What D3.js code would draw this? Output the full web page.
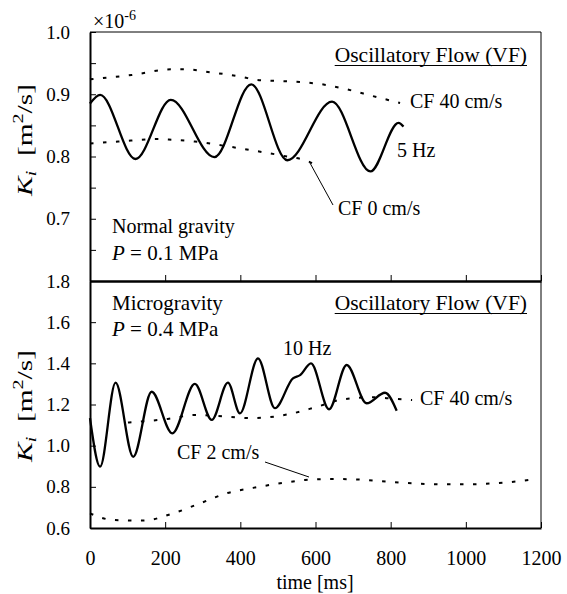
<!DOCTYPE html>
<html>
<head>
<meta charset="utf-8">
<script src="https://cdn.jsdelivr.net/npm/d3@7"></script>
<style>
  body { margin: 0; background: #fff; }
</style>
</head>
<body>
<div id="chart"></div>
<script>
// Ki vs time, two stacked panels (top: normal gravity, bottom: microgravity)
var svgWidth = 567;
var svgHeight = 594;
var serif = '"Liberation Serif"';

var plotLeft = 90, plotRight = 541;
var topY0 = 32, midY = 281, botY1 = 528;

// tick values
var xTicks = [0, 200, 400, 600, 800, 1000, 1200];
var topYTicks = [0.65, 0.7, 0.75, 0.8, 0.85, 0.9, 0.95, 1.0];
var topYLabels = [0.7, 0.8, 0.9, 1.0];
var botYTicks = [0.6, 0.8, 1.0, 1.2, 1.4, 1.6, 1.8];

// top panel, 5 Hz oscillatory flow (x1e-6 m2/s)
var top5HzT = [0, 27, 121, 215, 331, 429, 525, 644, 746, 821, 834];
var top5HzK = [0.885, 0.899, 0.796, 0.891, 0.799, 0.916, 0.794, 0.888, 0.776, 0.854, 0.848];
// top panel, CF 40 cm/s
var topCF40T = [0, 111, 217, 253, 324, 404, 444, 550, 617, 683, 753, 825];
var topCF40K = [0.924, 0.931, 0.940, 0.940, 0.935, 0.928, 0.923, 0.920, 0.916, 0.908, 0.897, 0.886];
// top panel, CF 0 cm/s
var topCF0T = [0, 75, 181, 217, 279, 359, 430, 506, 581, 612];
var topCF0K = [0.821, 0.824, 0.828, 0.827, 0.824, 0.817, 0.810, 0.802, 0.792, 0.783];

// bottom panel, 10 Hz oscillatory flow
var bot10HzT = [0, 27, 68, 115, 164, 219, 279, 324, 367, 399, 447, 492, 540, 559, 588, 636, 683, 736, 785, 816];
var bot10HzK = [1.134, 0.898, 1.306, 0.946, 1.262, 1.06, 1.30, 1.125, 1.306, 1.157, 1.424, 1.182, 1.327, 1.343, 1.40, 1.177, 1.392, 1.206, 1.257, 1.17];
// bottom panel, CF 40 cm/s
var botCF40T = [101, 207, 279, 341, 431, 532, 604, 673, 753, 793, 857];
var botCF40K = [1.112, 1.130, 1.149, 1.144, 1.134, 1.154, 1.189, 1.225, 1.235, 1.230, 1.222];
// bottom panel, CF 2 cm/s
var botCF2T = [0, 61, 141, 221, 293, 364, 434, 506, 572, 647, 719, 790, 861, 931, 1002, 1073, 1144, 1184];
var botCF2K = [0.671, 0.639, 0.636, 0.671, 0.72, 0.769, 0.795, 0.817, 0.833, 0.838, 0.835, 0.825, 0.817, 0.812, 0.812, 0.817, 0.828, 0.838];

var svg = d3.select("#chart")
  .append("svg")
  .attr("width", svgWidth)
  .attr("height", svgHeight);

var xScale = d3.scaleLinear().domain([0, 1200]).range([plotLeft, plotRight]);
var yTop = d3.scaleLinear().domain([0.6, 1.0]).range([midY, topY0]);
var yBot = d3.scaleLinear().domain([0.6, 1.8]).range([botY1, midY]);

// frame: thin top/right
svg.append("line").attr("x1", plotLeft).attr("x2", plotRight).attr("y1", topY0).attr("y2", topY0)
  .attr("stroke", "#000").attr("stroke-width", 1);
svg.append("line").attr("x1", plotRight).attr("x2", plotRight).attr("y1", topY0).attr("y2", botY1)
  .attr("stroke", "#000").attr("stroke-width", 1);

// y axes
var topAxis = d3.axisLeft(yTop)
  .tickValues(topYTicks)
  .tickSizeInner(-6).tickSizeOuter(0).tickPadding(20)
  .tickFormat(d => topYLabels.some(v => Math.abs(v - d) < 1e-9) ? d3.format(".1f")(d) : "");
svg.append("g")
  .attr("transform", `translate(${plotLeft},0)`)
  .call(topAxis)
  .call(g => g.select(".domain").attr("stroke-width", 2))
  .call(g => g.selectAll("text").attr("font-size", 19));

var botAxis = d3.axisLeft(yBot)
  .tickValues(botYTicks)
  .tickSizeInner(-6).tickSizeOuter(0).tickPadding(20)
  .tickFormat(d3.format(".1f"));
svg.append("g")
  .attr("transform", `translate(${plotLeft},0)`)
  .call(botAxis)
  .call(g => g.select(".domain").attr("stroke-width", 2))
  .call(g => g.selectAll("text").attr("font-size", 19));

// x axes
var midAxis = d3.axisBottom(xScale)
  .tickValues(xTicks).tickSizeInner(-6).tickSizeOuter(0).tickFormat("");
svg.append("g")
  .attr("transform", `translate(0,${midY})`)
  .call(midAxis)
  .call(g => g.select(".domain").attr("stroke-width", 2.5));

var bottomAxis = d3.axisBottom(xScale)
  .tickValues(xTicks).tickSizeInner(-6).tickSizeOuter(0).tickPadding(23)
  .tickFormat(d3.format("d"));
svg.append("g")
  .attr("transform", `translate(0,${botY1})`)
  .call(bottomAxis)
  .call(g => g.select(".domain").attr("stroke-width", 2))
  .call(g => g.selectAll("text").attr("font-size", 20));

// curves
function drawSeries(ts, ks, yScale, dashed) {
  var pts = ts.map((t, i) => [t, ks[i]]);
  var line = d3.line()
    .x(d => xScale(d[0]))
    .y(d => yScale(d[1]))
    .curve(d3.curveMonotoneX);
  var p = svg.append("path")
    .datum(pts)
    .attr("fill", "none")
    .attr("stroke", "#000")
    .attr("d", line);
  if (dashed) {
    p.attr("stroke-width", 2).attr("stroke-dasharray", "3.5,9.5");
  } else {
    p.attr("stroke-width", 2.3).attr("stroke-linejoin", "round");
  }
}

drawSeries(topCF40T, topCF40K, yTop, true);
drawSeries(topCF0T, topCF0K, yTop, true);
drawSeries(top5HzT, top5HzK, yTop, false);
drawSeries(botCF40T, botCF40K, yBot, true);
drawSeries(botCF2T, botCF2K, yBot, true);
drawSeries(bot10HzT, bot10HzK, yBot, false);

// annotations
function label(x, y, str, size) {
  return svg.append("text").attr("x", x).attr("y", y)
    .style("font-family", serif)
    .attr("font-size", size || 21).text(str);
}

function pLabel(x, y, str) {
  var t = svg.append("text").attr("x", x).attr("y", y)
    .style("font-family", serif).attr("font-size", 21);
  t.append("tspan").attr("font-style", "italic").text("P");
  t.append("tspan").text("\u00a0= " + str);
}

function underlined(xEnd, y, str) {
  var t = svg.append("text").attr("x", xEnd).attr("y", y)
    .style("font-family", serif)
    .attr("font-size", 21.5).attr("text-anchor", "end").text(str);
  var w = t.node().getComputedTextLength();
  svg.append("line")
    .attr("x1", xEnd - w).attr("x2", xEnd)
    .attr("y1", y + 3.5).attr("y2", y + 3.5)
    .attr("stroke", "#000").attr("stroke-width", 1.2);
}

// multiplier
var mult = svg.append("text").attr("x", 93).attr("y", 28)
  .style("font-family", serif).attr("font-size", 20);
mult.append("tspan").text("×10");
mult.append("tspan").attr("font-size", 14).attr("dy", -8).text("-6");

underlined(527, 62, "Oscillatory Flow (VF)");
label(410, 108, "CF 40 cm/s", 20);
label(397, 157, "5 Hz", 20);
label(338, 215, "CF 0 cm/s", 20);
label(112, 233, "Normal gravity", 20);
pLabel(112, 260, "0.1 MPa");

label(112, 310, "Microgravity");
pLabel(112, 336, "0.4 MPa");
underlined(527, 310, "Oscillatory Flow (VF)");
label(283, 355, "10 Hz", 20);
label(420, 405, "CF 40 cm/s", 20);
label(177, 459, "CF 2 cm/s", 20);

// leader lines
svg.append("line").attr("x1", 310).attr("y1", 163).attr("x2", 333).attr("y2", 205)
  .attr("stroke", "#000").attr("stroke-width", 1);
svg.append("line").attr("x1", 265).attr("y1", 462).attr("x2", 309).attr("y2", 477)
  .attr("stroke", "#000").attr("stroke-width", 1);

// y labels
function yLabel(cy) {
  var t = svg.append("text")
    .attr("transform", `translate(32,${cy}) rotate(-90)`)
    .attr("text-anchor", "middle")
    .style("font-family", serif)
    .attr("font-size", 22)
    .attr("textLength", 112)
    .attr("lengthAdjust", "spacingAndGlyphs");
  t.append("tspan").attr("font-style", "italic").text("K");
  t.append("tspan").attr("font-style", "italic").attr("font-size", 15).attr("dy", 4).text("i");
  t.append("tspan").attr("dy", -4).text("\u00a0\u00a0[m");
  t.append("tspan").attr("font-size", 15).attr("dy", -9).text("2");
  t.append("tspan").attr("dy", 9).text("/s]");
}
yLabel(140);
yLabel(406);

// x label
svg.append("text")
  .attr("x", 315).attr("y", 589)
  .attr("text-anchor", "middle")
  .attr("font-size", 20)
  .text("time [ms]");

// all text in Times-like serif
svg.selectAll("text").style("font-family", serif).attr("fill", "#000");
</script>
</body>
</html>
